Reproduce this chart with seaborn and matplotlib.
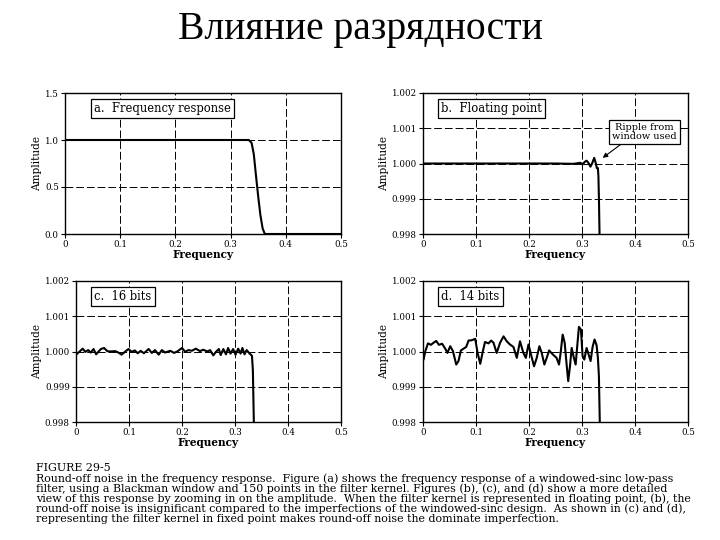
import matplotlib
matplotlib.use("Agg")
import matplotlib.pyplot as plt
import seaborn as sns
import numpy as np

sns.set_style("ticks")
plt.rcParams['font.family'] = ['DejaVu Serif', 'Liberation Serif']
plt.rcParams['text.color'] = 'black'
plt.rcParams['axes.labelcolor'] = 'black'
plt.rcParams['xtick.color'] = 'black'
plt.rcParams['ytick.color'] = 'black'

TITLE = "Влияние разрядности"

# Panel a: frequency response
freq_a = [0.0, 0.10, 0.20, 0.30, 0.333, 0.338, 0.342, 0.346, 0.350, 0.354, 0.358, 0.362, 0.40, 0.50]
amp_a = [1.0, 1.0, 1.0, 1.0, 1.0, 0.97, 0.85, 0.62, 0.40, 0.20, 0.06, 0.0, 0.0, 0.0]

# Panel b: floating point
freq_b = [0.0, 0.10, 0.20, 0.25, 0.2836, 0.297, 0.301, 0.3055, 0.3087, 0.3124, 0.316, 0.3193,
          0.323, 0.326, 0.328, 0.330, 0.331, 0.332, 0.3333]
amp_b = [1.0, 1.0, 1.0, 1.0, 0.99999, 1.00002, 0.99997, 1.00005, 1.00008, 1.00001, 0.99991, 1.00001,
         1.00016, 1.00001, 0.99987, 0.99987, 0.99963, 0.99896, 0.9978]

# Panel c: 16 bits
freq_c = [0.0, 0.0076, 0.0126, 0.0176, 0.023, 0.028, 0.033, 0.038, 0.042, 0.047, 0.053, 0.059, 0.064,
          0.074, 0.080, 0.086, 0.093, 0.099, 0.105, 0.111, 0.1165, 0.122, 0.128, 0.137, 0.143, 0.149,
          0.156, 0.162, 0.168, 0.178, 0.185, 0.191, 0.200, 0.206, 0.212, 0.2185, 0.226, 0.234, 0.240,
          0.248, 0.253, 0.259, 0.264, 0.2695, 0.273, 0.278, 0.283, 0.287, 0.2915, 0.2965, 0.301, 0.306,
          0.3105, 0.314, 0.318, 0.322, 0.3275, 0.332, 0.3337, 0.3358]
amp_c = [0.99991, 1.00001, 1.00008, 0.99999, 1.00004, 0.99997, 1.00007, 0.99992, 0.99999, 1.00007,
         1.00010, 1.00001, 1.0, 1.00001, 0.99997, 0.99991, 1.0, 1.00007, 0.99999, 1.00003, 0.99995,
         1.00002, 0.99995, 1.00007, 0.99996, 1.00004, 0.99991, 1.00004, 0.99997, 1.00002, 0.99996, 1.0,
         1.00010, 0.99999, 1.00004, 1.00002, 1.00008, 1.00001, 1.00005, 1.0, 1.00004, 0.99989, 0.99999,
         1.00007, 0.99990, 1.00007, 0.99992, 1.00010, 0.99994, 1.00007, 0.99991, 1.00008, 0.99994,
         1.00010, 0.99992, 1.00004, 0.99994, 0.99988, 0.99947, 0.9978]

# Panel d: 14 bits
freq_d = [0.001, 0.0044, 0.0094, 0.015, 0.020, 0.025, 0.030, 0.036, 0.042, 0.046, 0.0514, 0.0565,
          0.0627, 0.067, 0.0715, 0.0765, 0.0815, 0.086, 0.092, 0.0985, 0.103, 0.108, 0.113, 0.117,
          0.1236, 0.1286, 0.133, 0.139, 0.1455, 0.152, 0.158, 0.164, 0.1706, 0.177, 0.183, 0.1894,
          0.194, 0.199, 0.203, 0.2095, 0.2146, 0.2196, 0.224, 0.229, 0.2334, 0.238, 0.2447, 0.252,
          0.2566, 0.2597, 0.2635, 0.2673, 0.271, 0.274, 0.2773, 0.2805, 0.2842, 0.288, 0.291, 0.2942,
          0.298, 0.3011, 0.3043, 0.3087, 0.3124, 0.3162, 0.320, 0.3237, 0.3275, 0.330, 0.3319, 0.3338]
amp_d = [0.99977, 1.00001, 1.00023, 1.00019, 1.00025, 1.00030, 1.00019, 1.00022, 1.00008, 0.99996,
         1.00015, 1.00001, 0.99963, 0.99973, 1.00003, 1.00008, 1.00013, 1.00031, 1.00032, 1.00036,
         0.99996, 0.99965, 1.00001, 1.00027, 1.00023, 1.00031, 1.00025, 0.99996, 1.00025, 1.00043,
         1.00029, 1.00020, 1.00013, 0.99982, 1.00029, 0.99996, 0.99982, 1.00020, 0.99996, 0.99958,
         0.99982, 1.00015, 0.99996, 0.99963, 0.99982, 1.00003, 0.99992, 0.99982, 0.99963, 0.99996,
         1.00048, 1.00025, 0.99963, 0.99916, 0.99958, 1.00010, 0.99985, 0.99963, 1.00015, 1.00070,
         1.00062, 0.99987, 0.99977, 1.00010, 0.99992, 0.99973, 1.00013, 1.00034, 1.00018, 0.99982,
         0.99930, 0.9978]

x_ticks = [0, 0.1, 0.2, 0.3, 0.4, 0.5]
x_ticklabels = ["0", "0.1", "0.2", "0.3", "0.4", "0.5"]
y_ticks_a = [0.0, 0.5, 1.0, 1.5]
y_ticklabels_a = ["0.0", "0.5", "1.0", "1.5"]
y_ticks_z = [0.998, 0.999, 1.000, 1.001, 1.002]
y_ticklabels_z = ["0.998", "0.999", "1.000", "1.001", "1.002"]

panel_labels = ["a.  Frequency response", "b.  Floating point", "c.  16 bits", "d.  14 bits"]

CAPTION_HEAD = "FIGURE 29-5"
CAPTION_LINES = [
    "Round-off noise in the frequency response.  Figure (a) shows the frequency response of a windowed-sinc low-pass",
    "filter, using a Blackman window and 150 points in the filter kernel. Figures (b), (c), and (d) show a more detailed",
    "view of this response by zooming in on the amplitude.  When the filter kernel is represented in floating point, (b), the",
    "round-off noise is insignificant compared to the imperfections of the windowed-sinc design.  As shown in (c) and (d),",
    "representing the filter kernel in fixed point makes round-off noise the dominate imperfection.",
]

fig = plt.figure(figsize=(7.2, 5.4), dpi=100)
fig.patch.set_facecolor("white")

W, H = 720.0, 540.0
def rect(l, r, t, b):
    return [l / W, 1 - b / H, (r - l) / W, (b - t) / H]

axes_rects = [rect(65, 341, 93, 234), rect(423, 688, 93, 234),
              rect(76, 341, 281, 422), rect(423, 688, 281, 422)]
datasets = [(freq_a, amp_a), (freq_b, amp_b), (freq_c, amp_c), (freq_d, amp_d)]
label_x = [0.105, 0.068, 0.068, 0.068]

for i, (r, (fx, fy)) in enumerate(zip(axes_rects, datasets)):
    ax = fig.add_axes(r)
    sns.lineplot(x=fx, y=fy, ax=ax, color="black", linewidth=1.5, estimator=None)
    ax.set_xlim(0, 0.5)
    ax.set_xticks(x_ticks)
    ax.set_xticklabels(x_ticklabels)
    if i == 0:
        ax.set_ylim(0, 1.5)
        ax.set_yticks(y_ticks_a)
        ax.set_yticklabels(y_ticklabels_a)
    else:
        ax.set_ylim(0.998, 1.002)
        ax.set_yticks(y_ticks_z)
        ax.set_yticklabels(y_ticklabels_z)
    for xv in x_ticks[1:-1]:
        ax.axvline(xv, color="black", linestyle=(0, (8, 3)), linewidth=0.7, zorder=0)
    yt = y_ticks_a if i == 0 else y_ticks_z
    for yv in yt[1:-1]:
        ax.axhline(yv, color="black", linestyle=(0, (8, 3)), linewidth=0.7, zorder=0)
    for s in ax.spines.values():
        s.set_color("black")
        s.set_linewidth(1.0)
    ax.tick_params(axis="both", labelsize=6.2, length=3, width=0.8, color="black", pad=1.5, direction="out")
    ax.set_xlabel("Frequency", fontsize=7.6, fontweight="bold", labelpad=0)
    ax.set_ylabel("Amplitude", fontsize=7.6, labelpad=2)
    ax.text(label_x[i], 0.89, panel_labels[i], transform=ax.transAxes, fontsize=8.3,
            va="center", ha="left",
            bbox=dict(boxstyle="square,pad=0.3", facecolor="white", edgecolor="black", linewidth=0.9))
    if i == 1:
        ax.annotate("Ripple from\nwindow used", xy=(0.339, 1.00016), xytext=(0.418, 1.00089),
                    fontsize=7.0, ha="center", va="center", linespacing=1.0,
                    bbox=dict(boxstyle="square,pad=0.3", facecolor="white", edgecolor="black", linewidth=0.9),
                    arrowprops=dict(arrowstyle="-|>", color="black", lw=0.8, shrinkA=0, shrinkB=0,
                                    mutation_scale=7, relpos=(0.2, 0.0)))

fig.text(0.5, 1 - 30 / H, TITLE, fontsize=28.5, ha="center", va="center",
         family=['Liberation Serif', 'DejaVu Serif'], color="black")

fig.text(36 / W, 1 - 468 / H, CAPTION_HEAD, fontsize=7.9, ha="left", va="center")
for k, line in enumerate(CAPTION_LINES):
    fig.text(36 / W, 1 - (479 + 10.0 * k) / H, line, fontsize=7.9, ha="left", va="center")

fig.savefig("out.png", dpi=100, facecolor="white")
